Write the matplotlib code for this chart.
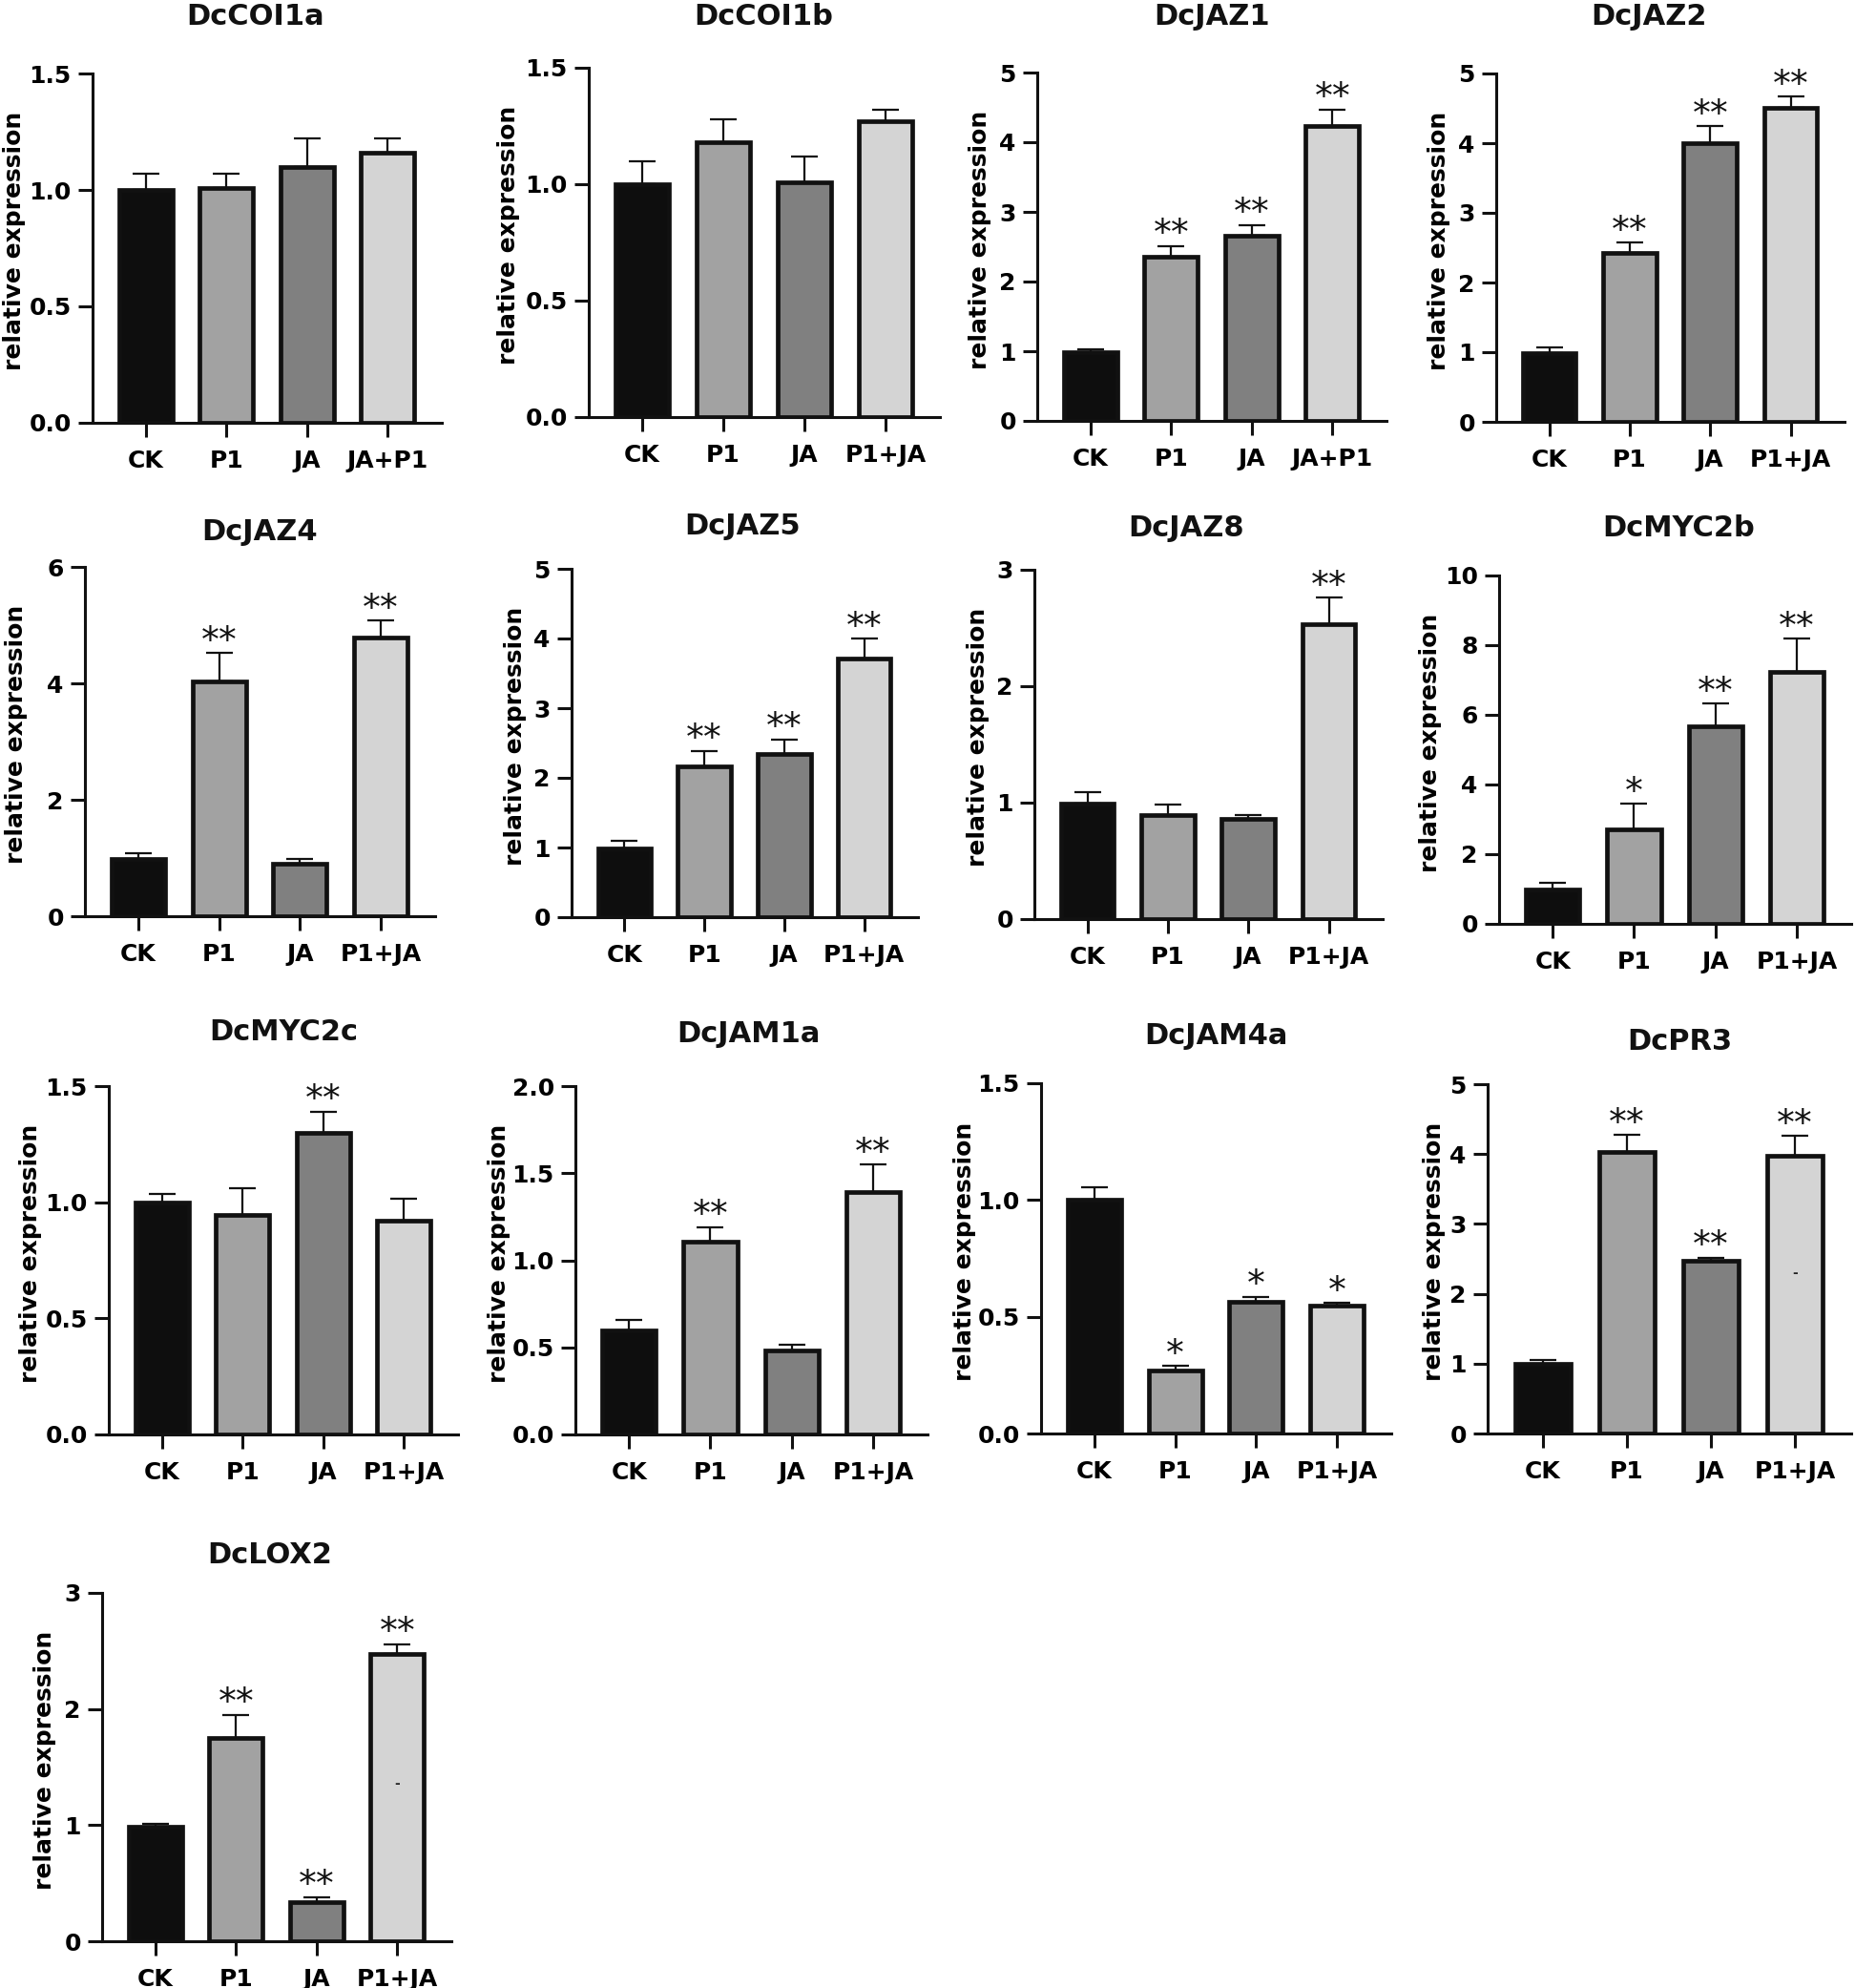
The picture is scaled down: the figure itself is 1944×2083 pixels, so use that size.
import matplotlib
matplotlib.use("Agg")
import matplotlib.pyplot as plt
import numpy as np

plt.rcParams['font.family'] = ['DejaVu Sans']
plt.rcParams['font.weight'] = 'bold'

W, H = 1944, 2083

# ---------------- data ----------------
labels_A = ["CK", "P1", "JA", "JA+P1"]
labels_B = ["CK", "P1", "JA", "P1+JA"]
bar_colors = ["#0e0e0e", "#a2a2a2", "#808080", "#d4d4d4"]

COI1a_mean = [1.00, 1.01, 1.10, 1.16]
COI1a_err = [0.07, 0.06, 0.12, 0.06]
COI1a_sig = ["", "", "", ""]

COI1b_mean = [1.00, 1.18, 1.01, 1.27]
COI1b_err = [0.10, 0.10, 0.11, 0.05]
COI1b_sig = ["", "", "", ""]

JAZ1_mean = [0.99, 2.36, 2.66, 4.23]
JAZ1_err = [0.04, 0.15, 0.15, 0.24]
JAZ1_sig = ["", "**", "**", "**"]

JAZ2_mean = [0.99, 2.42, 4.00, 4.51]
JAZ2_err = [0.08, 0.15, 0.24, 0.16]
JAZ2_sig = ["", "**", "**", "**"]

JAZ4_mean = [0.99, 4.04, 0.90, 4.79]
JAZ4_err = [0.09, 0.48, 0.09, 0.29]
JAZ4_sig = ["", "**", "", "**"]

JAZ5_mean = [0.99, 2.17, 2.34, 3.71]
JAZ5_err = [0.11, 0.22, 0.21, 0.29]
JAZ5_sig = ["", "**", "**", "**"]

JAZ8_mean = [0.99, 0.89, 0.86, 2.53]
JAZ8_err = [0.10, 0.09, 0.03, 0.23]
JAZ8_sig = ["", "", "", "**"]

MYC2b_mean = [0.98, 2.72, 5.68, 7.23]
MYC2b_err = [0.20, 0.72, 0.64, 0.95]
MYC2b_sig = ["", "*", "**", "**"]

MYC2c_mean = [1.00, 0.945, 1.30, 0.92]
MYC2c_err = [0.035, 0.115, 0.09, 0.096]
MYC2c_sig = ["", "", "**", ""]

JAM1a_mean = [0.60, 1.105, 0.48, 1.39]
JAM1a_err = [0.06, 0.085, 0.037, 0.16]
JAM1a_sig = ["", "**", "", "**"]

JAM4a_mean = [1.00, 0.27, 0.566, 0.548]
JAM4a_err = [0.055, 0.02, 0.02, 0.01]
JAM4a_sig = ["", "*", "*", "*"]

PR3_mean = [1.00, 4.03, 2.47, 3.98]
PR3_err = [0.055, 0.24, 0.05, 0.28]
PR3_sig = ["", "**", "**", "**"]

LOX2_mean = [0.99, 1.75, 0.335, 2.47]
LOX2_err = [0.02, 0.20, 0.045, 0.09]
LOX2_sig = ["", "**", "**", "**"]

# stray dash marks visible inside the last bar of two panels (value, bar index)
PR3_dash = (2.29, 3)
LOX2_dash = (1.36, 3)

# ---------------- layout ----------------
# pixel boxes: left, top, right, bottom ; title centre ; y-label offset from axis (px)
panels = [
    ("DcCOI1a", labels_A, COI1a_mean, COI1a_err, COI1a_sig, 1.5, [0, 0.5, 1.0, 1.5], "%.1f", (97, 77, 463, 443), (268, 18), -82, None),
    ("DcCOI1b", labels_B, COI1b_mean, COI1b_err, COI1b_sig, 1.5, [0, 0.5, 1.0, 1.5], "%.1f", (617, 71, 985, 437), (800, 18), -84, None),
    ("DcJAZ1", labels_A, JAZ1_mean, JAZ1_err, JAZ1_sig, 5, [0, 1, 2, 3, 4, 5], "%d", (1087, 76, 1453, 441), (1270, 18), -60, None),
    ("DcJAZ2", labels_B, JAZ2_mean, JAZ2_err, JAZ2_sig, 5, [0, 1, 2, 3, 4, 5], "%d", (1568, 77, 1933, 442), (1728, 18), -60, None),
    ("DcJAZ4", labels_B, JAZ4_mean, JAZ4_err, JAZ4_sig, 6, [0, 2, 4, 6], "%d", (89, 594, 456, 960), (272, 558), -72, None),
    ("DcJAZ5", labels_B, JAZ5_mean, JAZ5_err, JAZ5_sig, 5, [0, 1, 2, 3, 4, 5], "%d", (599, 596, 962, 961), (778, 552), -59, None),
    ("DcJAZ8", labels_B, JAZ8_mean, JAZ8_err, JAZ8_sig, 3, [0, 1, 2, 3], "%d", (1084, 597, 1449, 963), (1243, 553), -59, None),
    ("DcMYC2b", labels_B, MYC2b_mean, MYC2b_err, MYC2b_sig, 10, [0, 2, 4, 6, 8, 10], "%d", (1571, 603, 1940, 968), (1759, 553), -72, None),
    ("DcMYC2c", labels_B, MYC2c_mean, MYC2c_err, MYC2c_sig, 1.5, [0, 0.5, 1.0, 1.5], "%.1f", (114, 1138, 480, 1503), (297, 1082), -82, None),
    ("DcJAM1a", labels_B, JAM1a_mean, JAM1a_err, JAM1a_sig, 2.0, [0, 0.5, 1.0, 1.5, 2.0], "%.1f", (603, 1138, 972, 1503), (784, 1083), -80, None),
    ("DcJAM4a", labels_B, JAM4a_mean, JAM4a_err, JAM4a_sig, 1.5, [0, 0.5, 1.0, 1.5], "%.1f", (1091, 1135, 1458, 1502), (1274, 1085), -80, None),
    ("DcPR3", labels_B, PR3_mean, PR3_err, PR3_sig, 5, [0, 1, 2, 3, 4, 5], "%d", (1559, 1136, 1940, 1502), (1760, 1092), -56, PR3_dash),
    ("DcLOX2", labels_B, LOX2_mean, LOX2_err, LOX2_sig, 3, [0, 1, 2, 3], "%d", (107, 1669, 473, 2034), (283, 1630), -60, LOX2_dash),
]

fig = plt.figure(figsize=(W / 100, H / 100), dpi=100)

for (title, labs, mean, err, sig, ymax, yt, fmt, box, tpos, yoff, dash) in panels:
    l, t, r, b = box
    ax = fig.add_axes([l / W, 1 - b / H, (r - l) / W, (b - t) / H])
    x = np.arange(len(mean))
    ax.bar(x, mean, width=0.66, color=bar_colors, edgecolor="#111111",
           linewidth=3.4, zorder=3)
    ax.errorbar(x, mean, yerr=[np.zeros(len(err)), err], fmt="none",
                ecolor="#111111", elinewidth=1.6, capsize=10, capthick=1.6,
                zorder=2)
    for xi, m, e, s in zip(x, mean, err, sig):
        if s:
            ax.annotate(s, xy=(xi, m + e), xytext=(0, 1), textcoords="offset points",
                        ha="center", va="baseline", fontsize=27, fontweight="normal",
                        color="#111111", zorder=4)
    if dash is not None:
        ax.text(dash[1], dash[0], "-", ha="center", va="center", fontsize=10,
                color="#222222", zorder=4)
    ax.set_xlim(-0.66, 3.67)
    ax.set_ylim(0, ymax)
    ax.set_yticks(yt)
    ax.set_yticklabels([fmt % v for v in yt])
    ax.set_xticks(x)
    ax.set_xticklabels(labs)
    for side in ["top", "right"]:
        ax.spines[side].set_visible(False)
    for side in ["left", "bottom"]:
        ax.spines[side].set_linewidth(2.2)
        ax.spines[side].set_color("#111111")
    ax.tick_params(axis="both", width=2.2, length=11, labelsize=18, color="#111111",
                   pad=5)
    ax.tick_params(axis="x", pad=9)
    for lab in ax.get_xticklabels() + ax.get_yticklabels():
        lab.set_fontweight("bold")
    ax.set_ylabel("relative expression", fontsize=18, fontweight="bold", va="center")
    ax.yaxis.set_label_coords(yoff / (r - l), 0.52)
    ax.patch.set_alpha(0)
    fig.text(tpos[0] / W, 1 - tpos[1] / H, title, ha="center", va="center",
             fontsize=22, fontweight="bold", color="#111111")

fig.savefig("out.png", dpi=100, facecolor="white")
